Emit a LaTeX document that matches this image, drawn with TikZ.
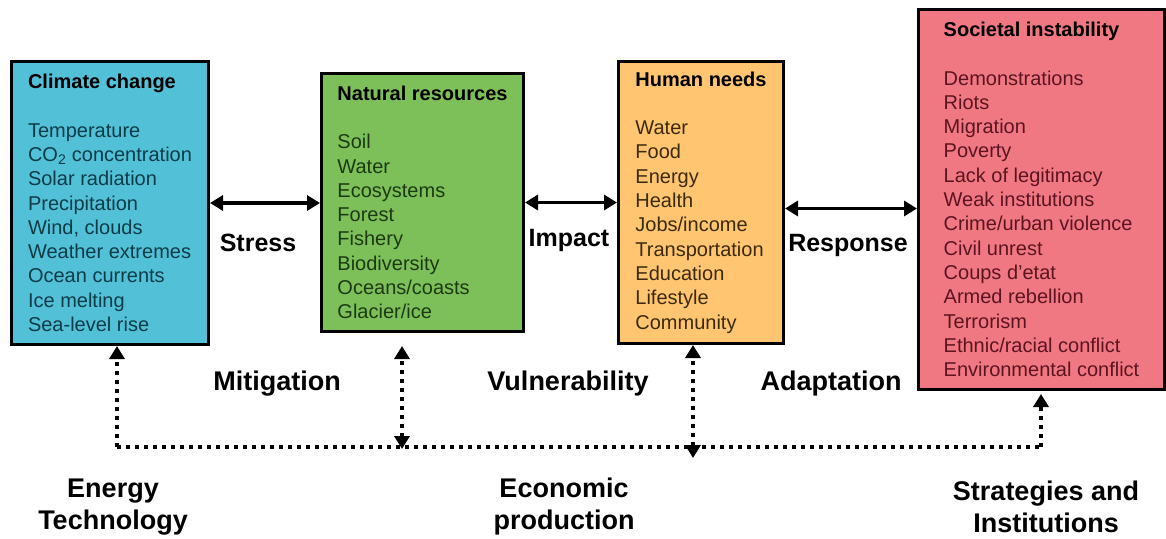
\documentclass[tikz,border=0pt]{standalone}
\usepackage{fontspec}
\setmainfont{Liberation Sans}
\usepackage{xcolor}
\usepackage{tikz}
\usetikzlibrary{arrows.meta, positioning}

\definecolor{climfill}{RGB}{82,193,216}
\definecolor{climtext}{RGB}{12,60,72}
\definecolor{natfill}{RGB}{125,192,90}
\definecolor{nattext}{RGB}{28,58,18}
\definecolor{humfill}{RGB}{255,197,112}
\definecolor{humtext}{RGB}{60,42,12}
\definecolor{socfill}{RGB}{240,120,130}
\definecolor{soctext}{RGB}{92,20,32}

\begin{document}
\begin{tikzpicture}[x=1pt, y=-1pt,
    box/.style={draw=black, line width=3pt, anchor=north west, align=left,
        inner xsep=15pt, inner ysep=0pt, font=\fontsize{20}{24.3}\selectfont},
    link/.style={line width=3.5pt, {Triangle[length=13pt,width=15pt]}-{Triangle[length=13pt,width=15pt]}},
    uptip/.style={-{Triangle[length=13pt,width=15pt]}},
    dots/.style={line width=4pt, dash pattern=on 4pt off 5pt},
    lbl/.style={font=\fontsize{25}{32}\selectfont\bfseries, align=center},
    biglbl/.style={font=\fontsize{27}{32}\selectfont\bfseries, align=center}]
        \useasboundingbox (0,0) rectangle (1166,538);
%
        \node[box, fill=climfill, text=climtext, minimum width=197pt, minimum height=283pt] (clim) at (10,60)
            {{\color{black}\textbf{Climate change}}\\[24pt]
             Temperature\\CO\textsubscript{2} concentration\\Solar radiation\\Precipitation\\Wind, clouds\\
             Weather extremes\\Ocean currents\\Ice melting\\Sea-level rise};
        \node[box, fill=natfill, text=nattext, minimum width=202pt, minimum height=258pt] (nat) at (320,72)
            {{\color{black}\textbf{Natural resources}}\\[24pt]
             Soil\\Water\\Ecosystems\\Forest\\Fishery\\Biodiversity\\Oceans/coasts\\Glacier/ice};
        \node[box, fill=humfill, text=humtext, minimum width=165pt, minimum height=282pt] (hum) at (617,60)
            {{\color{black}\textbf{Human needs}}\\[24pt]
             Water\\Food\\Energy\\Health\\Jobs/income\\Transportation\\Education\\Lifestyle\\Community};
        \node[box, fill=socfill, text=soctext, minimum width=246pt, minimum height=380pt] (soc) at (917,8)
            {{\color{black}\textbf{Societal instability}}\\[24pt]
             Demonstrations\\Riots\\Migration\\Poverty\\Lack of legitimacy\\Weak institutions\\
             Crime/urban violence\\Civil unrest\\Coups d'etat\\Armed rebellion\\Terrorism\\
             Ethnic/racial conflict\\Environmental conflict};
%
        \node[lbl] (stress) at (258,243) {Stress};
        \node[lbl] (impact) at (569,240) {Impact};
        \node[lbl] (response) at (848,245) {Response};
        \node[biglbl] (mitig) at (277,384) {Mitigation};
        \node[biglbl] (vuln) at (568,384) {Vulnerability};
        \node[biglbl] (adapt) at (831,384) {Adaptation};
        \node[biglbl] (energy) at (113,507) {Energy\\Technology};
        \node[biglbl] (econ) at (564,507) {Economic\\production};
        \node[biglbl] (strat) at (1046,507) {Strategies and\\Institutions};
%
        \draw[link] (clim.east) -- (clim.east -| nat.west);
        \draw[link] (nat.east) -- (nat.east -| hum.west);
        \draw[link] ([yshift=-6pt]hum.east) -- ([yshift=-6pt]hum.east -| soc.west);
%
        \coordinate (bl) at (117,447);
        \coordinate (br) at (1041,447);
        \coordinate (nb) at (402,449);
        \coordinate (hb) at (693,458);
        \draw[dots] (bl) -- (br);
        \draw[dots, uptip] (bl) -- (bl |- clim.south);
        \draw[dots, link] (nb) -- ([yshift=-13pt]nb |- nat.south);
        \draw[dots, link] (hb) -- (hb |- hum.south);
        \draw[dots, uptip] (br) -- ([yshift=-3pt]br |- soc.south);
\end{tikzpicture}
\end{document}
